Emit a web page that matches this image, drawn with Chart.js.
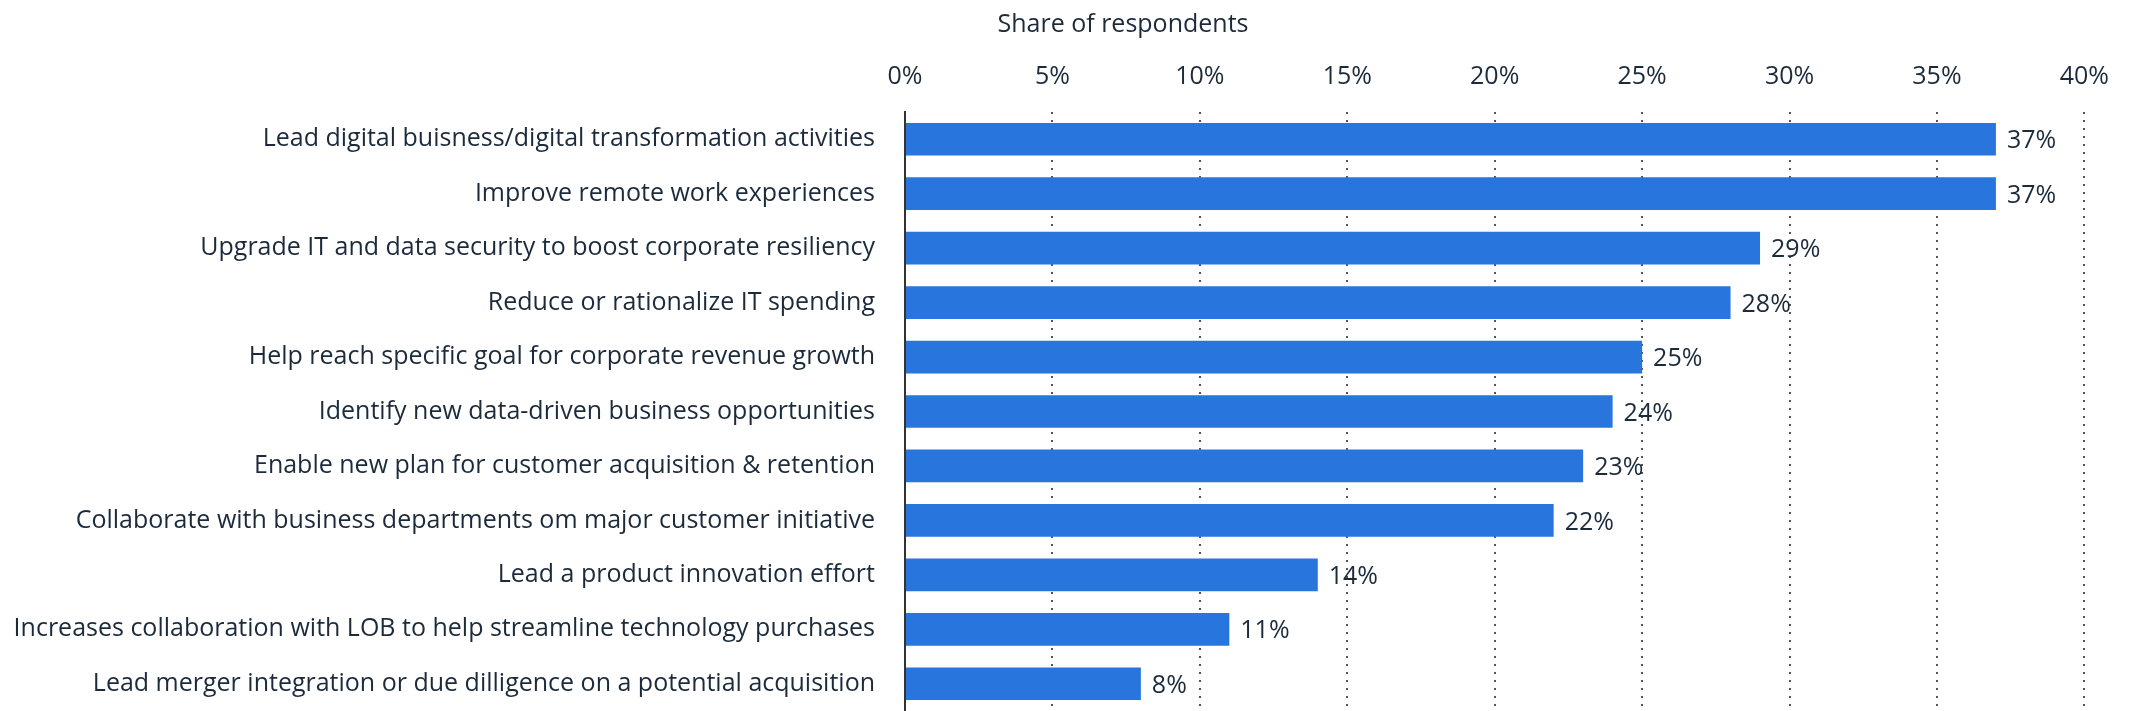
<!DOCTYPE html>
<html>
<head>
<meta charset="utf-8">
<script src="https://cdn.jsdelivr.net/npm/chart.js@4.4.1/dist/chart.umd.min.js"></script>
<style>
  html, body { margin: 0; padding: 0; background: #fff; overflow: hidden; }
  canvas { display: block; }
</style>
</head>
<body>
<canvas id="chart" width="2129" height="711"></canvas>
<script>
// data
const categories = [
    "Lead digital buisness/digital transformation activities",
    "Improve remote work experiences",
    "Upgrade IT and data security to boost corporate resiliency",
    "Reduce or rationalize IT spending",
    "Help reach specific goal for corporate revenue growth",
    "Identify new data-driven business opportunities",
    "Enable new plan for customer acquisition & retention",
    "Collaborate with business departments om major customer initiative",
    "Lead a product innovation effort",
    "Increases collaboration with LOB to help streamline technology purchases",
    "Lead merger integration or due dilligence on a potential acquisition"
];
const shares = [37, 37, 29, 28, 25, 24, 23, 22, 14, 11, 8];
const axisTitle = "Share of respondents";
const xMax = 40;
const xStep = 5;

const textColor = "#1c2b3c";
const fontFamily = "'Open Sans', 'Noto Sans', sans-serif";
const fontSize = 25;

// value labels at the end of each bar
const valueLabels = {
    id: "valueLabels",
    afterDatasetsDraw(chart) {
        const ctx = chart.ctx;
        const meta = chart.getDatasetMeta(0);
        ctx.save();
        ctx.font = fontSize + "px " + fontFamily;
        ctx.fillStyle = textColor;
        ctx.textAlign = "left";
        ctx.textBaseline = "middle";
        meta.data.forEach((bar, i) => {
            ctx.fillText(shares[i] + "%", bar.x + 11, bar.y + 2);
        });
        ctx.restore();
    }
};

// title above the top axis
const topTitle = {
    id: "topTitle",
    afterDraw(chart) {
        const ctx = chart.ctx;
        ctx.save();
        ctx.font = fontSize + "px " + fontFamily;
        ctx.fillStyle = textColor;
        ctx.textAlign = "center";
        ctx.textBaseline = "middle";
        ctx.fillText(axisTitle, chart.chartArea.left + 218, 25);
        ctx.restore();
    }
};

new Chart(document.getElementById("chart"), {
    type: "bar",
    data: {
        labels: categories,
        datasets: [{
            data: shares,
            backgroundColor: "#2876dd",
            borderWidth: 0,
            categoryPercentage: 1,
            barPercentage: 0.6
        }]
    },
    options: {
        indexAxis: "y",
        responsive: false,
        animation: false,
        layout: { padding: { top: 52, right: 42, bottom: 0, left: 0 } },
        plugins: {
            legend: { display: false },
            tooltip: { enabled: false }
        },
        scales: {
            x: {
                position: "top",
                min: 0,
                max: xMax,
                ticks: {
                    stepSize: xStep,
                    padding: 20,
                    color: textColor,
                    font: { size: fontSize, family: fontFamily },
                    callback: v => v + "%"
                },
                grid: {
                    drawTicks: false,
                    color: "#555",
                    lineWidth: 2
                },
                border: { display: false, dash: [2, 6] },
                afterFit: s => { s.height = 60; }
            },
            y: {
                ticks: {
                    padding: 22,
                    color: textColor,
                    font: { size: fontSize, family: fontFamily }
                },
                grid: { display: false },
                border: { display: true, color: "#333", width: 2 },
                afterFit: s => {
                    s.width = 905;
                    s.paddingTop = 0;
                    s.paddingBottom = 0;
                }
            }
        }
    },
    plugins: [valueLabels, topTitle]
});
</script>
</body>
</html>
